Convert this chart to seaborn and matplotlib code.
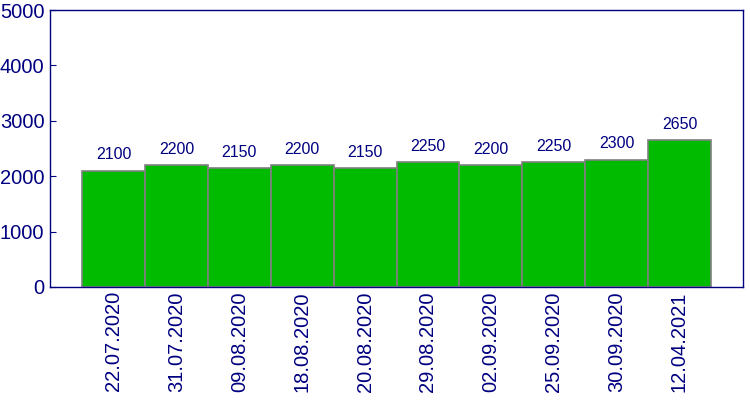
import matplotlib
matplotlib.use("Agg")
import matplotlib.pyplot as plt
import seaborn as sns
import pandas as pd

dates = ["22.07.2020", "31.07.2020", "09.08.2020", "18.08.2020", "20.08.2020",
         "29.08.2020", "02.09.2020", "25.09.2020", "30.09.2020", "12.04.2021"]
values = [2100, 2200, 2150, 2200, 2150, 2250, 2200, 2250, 2300, 2650]

sns.set_style("white")
plt.rcParams['font.family'] = ['Liberation Sans', 'DejaVu Sans']

navy = "#000080"
df = pd.DataFrame({"date": dates, "value": values})

fig = plt.figure(figsize=(7.5, 4), dpi=100)
ax = fig.add_axes([50/750, 113/400, 693/750, 277/400])
sns.barplot(data=df, x="date", y="value", color="#00bb00", saturation=1,
            width=1.0, edgecolor="#808080", linewidth=1.2, ax=ax)

for i, v in enumerate(values):
    ax.annotate(str(v), (i, v), xytext=(0, 6), textcoords="offset points",
                ha="center", va="bottom", color=navy, fontsize=11.5)

ax.set_xlim(-1.01, 10.01)
ax.set_ylim(0, 5000)
ax.set_yticks([0, 1000, 2000, 3000, 4000, 5000])
ax.set_xlabel("")
ax.set_ylabel("")
ax.tick_params(axis="y", direction="in", length=4, color=navy, labelcolor=navy,
               labelsize=14.5, left=True, pad=4)
ax.tick_params(axis="x", length=0, labelcolor=navy, labelsize=14.5, rotation=90, pad=3)
for s in ax.spines.values():
    s.set_color(navy)
    s.set_linewidth(1)

fig.savefig("out.png", dpi=100)
